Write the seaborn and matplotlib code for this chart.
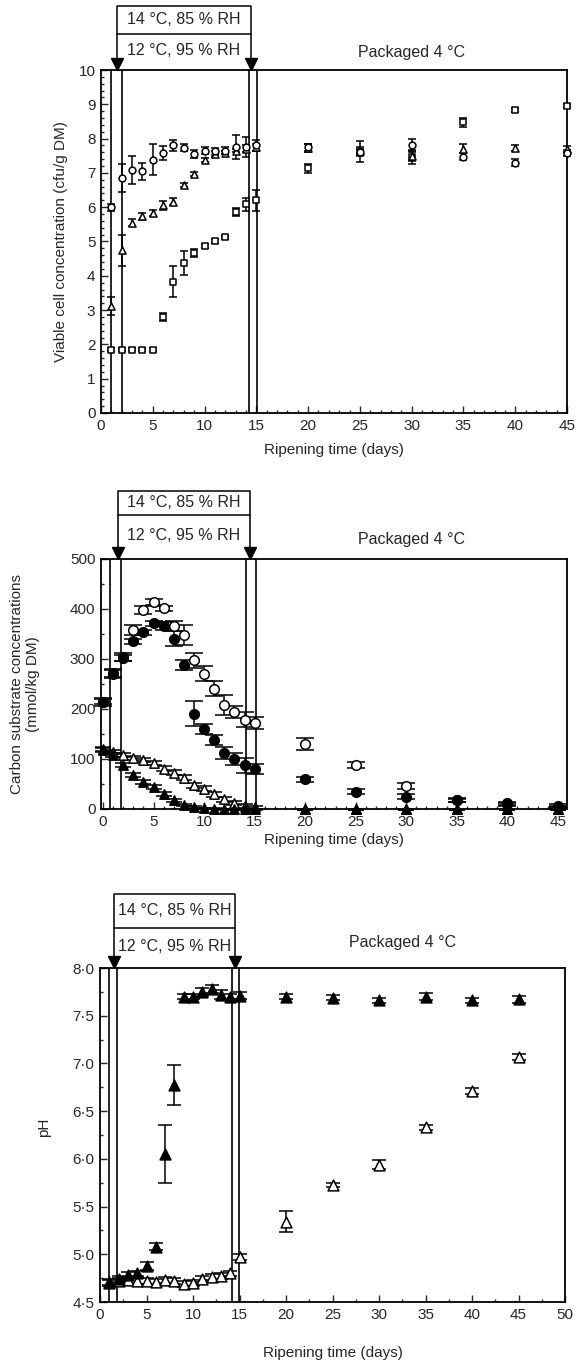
import matplotlib
matplotlib.use("Agg")
import matplotlib.pyplot as plt
import matplotlib.transforms as mtransforms
from matplotlib.ticker import MultipleLocator, FuncFormatter
import seaborn as sns

# ---------------- Viable cell counts (log cfu/g DM) ----------------
days_cells = [1, 2, 3, 4, 5, 6, 7, 8, 9, 10, 11, 12, 13, 14, 15, 20, 25, 30, 35, 40, 45]
cells_circle = [6.0, 6.85, 7.08, 7.05, 7.38, 7.58, 7.8, 7.73, 7.55, 7.65, 7.63, 7.65, 7.75, 7.75, 7.8,
                7.75, 7.6, 7.8, 7.47, 7.3, 7.58]
cells_circle_err = [0.1, 0.42, 0.4, 0.25, 0.45, 0.2, 0.15, 0.1, 0.12, 0.1, 0.1, 0.1, 0.35, 0.3, 0.15,
                    0.1, 0.1, 0.2, 0.1, 0.1, 0.08]
cells_triangle = [3.12, 4.75, 5.55, 5.74, 5.83, 6.05, 6.16, 6.65, 6.97, 7.37, 7.55, 7.59, 7.65, 7.7, 7.75,
                  7.72, 7.65, 7.5, 7.71, 7.72, 7.7]
cells_triangle_err = [0.25, 0.45, 0.1, 0.1, 0.1, 0.12, 0.1, 0.05, 0.05, 0.05, 0.08, 0.05, 0.05, 0.1, 0.1,
                      0.12, 0.1, 0.15, 0.12, 0.08, 0.08]
cells_square = [1.85, 1.85, 1.85, 1.85, 1.85, 2.81, 3.83, 4.36, 4.67, 4.87, 5.02, 5.12, 5.87, 6.08, 6.2,
                7.13, 7.62, 7.47, 8.47, 8.84, 8.95]
cells_square_err = [0.05, 0.05, 0.05, 0.05, 0.05, 0.12, 0.45, 0.35, 0.12, 0.05, 0.05, 0.05, 0.12, 0.2, 0.3,
                    0.12, 0.3, 0.2, 0.12, 0.05, 0.05]

# ---------------- Carbon substrates (mmol/kg DM) ----------------
days_carbon = [0, 1, 2, 3, 4, 5, 6, 7, 8, 9, 10, 11, 12, 13, 14, 15, 20, 25, 30, 35, 40, 45]
carbon_open_circle = [215, 272, 305, 358, 398, 413, 401, 365, 348, 298, 271, 241, 208, 195, 179, 173,
                      131, 88, 46, 18, 12, 7]
carbon_open_circle_err = [8, 8, 8, 10, 8, 6, 5, 10, 20, 15, 15, 15, 20, 12, 15, 12, 12, 6, 6, 3, 3, 3]
carbon_filled_circle = [215, 271, 303, 335, 353, 371, 366, 340, 289, 191, 160, 139, 113, 101, 88, 81,
                        60, 35, 25, 18, 10, 5]
carbon_filled_circle_err = [5, 8, 6, 5, 5, 5, 8, 15, 10, 25, 10, 10, 12, 12, 15, 10, 5, 5, 5, 4, 3, 2]
carbon_open_triangle = [121, 115, 108, 103, 98, 93, 81, 73, 63, 48, 41, 30, 20, 12, 6, 4,
                        0, 0, 0, 0, 0, 0]
carbon_open_triangle_err = [4, 4, 4, 4, 4, 4, 5, 5, 5, 5, 5, 5, 5, 4, 4, 3, 1, 1, 1, 1, 1, 1]
carbon_filled_triangle = [119, 108, 88, 68, 55, 45, 30, 18, 8, 4, 2, 1, 0, 0, 0, 0,
                          0, 0, 0, 0, 0, 0]
carbon_filled_triangle_err = [4, 4, 4, 4, 4, 4, 4, 3, 2, 2, 1, 1, 1, 1, 1, 1, 1, 1, 1, 1, 1, 1]

# ---------------- pH ----------------
days_ph = [1, 2, 3, 4, 5, 6, 7, 8, 9, 10, 11, 12, 13, 14, 15, 20, 25, 30, 35, 40, 45]
ph_filled = [4.71, 4.74, 4.78, 4.80, 4.88, 5.08, 6.05, 6.77, 7.70, 7.70, 7.75, 7.78, 7.72, 7.70, 7.71,
             7.70, 7.69, 7.66, 7.70, 7.66, 7.67]
ph_filled_err = [0.03, 0.03, 0.03, 0.03, 0.04, 0.04, 0.3, 0.21, 0.03, 0.03, 0.04, 0.04, 0.05, 0.03, 0.04,
                 0.03, 0.03, 0.03, 0.04, 0.03, 0.04]
ph_open = [4.70, 4.72, 4.73, 4.72, 4.72, 4.71, 4.73, 4.72, 4.69, 4.70, 4.74, 4.76, 4.77, 4.80, 4.97,
           5.34, 5.73, 5.94, 6.33, 6.71, 7.07]
ph_open_err = [0.03, 0.03, 0.03, 0.03, 0.03, 0.03, 0.03, 0.03, 0.03, 0.03, 0.03, 0.03, 0.03, 0.03, 0.03,
               0.11, 0.02, 0.05, 0.03, 0.03, 0.03]

box_upper = "14 °C, 85 % RH"
box_lower = "12 °C, 95 % RH"
packaged = "Packaged 4 °C"
xlabel = "Ripening time (days)"

sns.set_style("ticks")
plt.rcParams["font.family"] = ["Liberation Sans", "DejaVu Sans"]
plt.rcParams["axes.linewidth"] = 1.3
plt.rcParams["axes.edgecolor"] = "black"

W, H = 582, 1366
fig = plt.figure(figsize=(W / 100, H / 100), dpi=100)
fig.patch.set_facecolor("white")


def axes_px(left, top, right, bottom):
    return fig.add_axes([left / W, 1 - bottom / H, (right - left) / W, (bottom - top) / H])


ax1 = axes_px(101, 70, 567, 413)
ax2 = axes_px(101, 559, 567, 809)
ax3 = axes_px(100, 968, 565, 1302)


def series(ax, x, y, err, marker, filled, size, capsize, lw=1.1):
    ax.errorbar(x, y, yerr=err, fmt="none", ecolor="black", elinewidth=lw,
                capsize=capsize, capthick=lw, zorder=2, clip_on=False)
    sns.scatterplot(x=x, y=y, ax=ax, marker=marker, s=size,
                    color="black" if filled else "white", edgecolor="black",
                    linewidth=lw, zorder=3, legend=False, clip_on=False)


def decorate(ax, vlines, mid, top, pack_x, pack_y):
    trans = mtransforms.blended_transform_factory(ax.transData, ax.transAxes)
    for xv in vlines:
        ax.axvline(xv, color="black", lw=1.2, zorder=1)
    kw = dict(transform=trans, clip_on=False, color="black", lw=1.1)
    ax.plot([1.5, 1.5, 14.5, 14.5], [1.0, top, top, 1.0], **kw)
    ax.plot([1.5, 14.5], [mid, mid], **kw)
    arrow_t = mtransforms.offset_copy(trans, fig=fig, y=4.5, units="points")
    ax.plot([1.5, 14.5], [1.0, 1.0], ls="none", marker="v", ms=9, color="black",
            transform=arrow_t, clip_on=False)
    ax.text(8, (mid + top) / 2, box_upper, transform=trans, ha="center", va="center", fontsize=11.5)
    ax.text(8, (1 + mid) / 2 + 0.005, box_lower, transform=trans, ha="center", va="center", fontsize=11.5)
    ax.text(pack_x, pack_y, packaged, transform=trans, ha="center", va="center", fontsize=11.5)


def style_ticks(ax):
    ax.tick_params(axis="both", which="both", direction="in", top=False, right=False,
                   labelsize=11, width=1.0, pad=4)
    ax.tick_params(which="major", length=5)
    ax.tick_params(which="minor", length=2.5)


# ---- top panel: viable cells ----
series(ax1, days_cells, cells_square, cells_square_err, "s", False, 24, 3)
series(ax1, days_cells, cells_triangle, cells_triangle_err, "^", False, 26, 3)
series(ax1, days_cells, cells_circle, cells_circle_err, "o", False, 24, 3)
ax1.set_xlim(0, 45)
ax1.set_ylim(0, 10)
ax1.xaxis.set_major_locator(MultipleLocator(5))
ax1.xaxis.set_minor_locator(MultipleLocator(1))
ax1.yaxis.set_major_locator(MultipleLocator(1))
ax1.yaxis.set_minor_locator(MultipleLocator(0.2))
decorate(ax1, [1.0, 2.0, 14.3, 15.05], 1.105, 1.187, 30.0, 1.05)
ax1.set_xlabel(xlabel, fontsize=11)
ax1.set_ylabel("Viable cell concentration (cfu/g DM)", fontsize=11)
ax1.xaxis.set_label_coords(0.5, -0.088)
ax1.yaxis.set_label_coords(-0.071, 0.5)
style_ticks(ax1)

# ---- middle panel: carbon substrates ----
series(ax2, days_carbon, carbon_open_triangle, carbon_open_triangle_err, "^", False, 45, 6)
series(ax2, days_carbon, carbon_filled_triangle, carbon_filled_triangle_err, "^", True, 45, 6)
series(ax2, days_carbon, carbon_open_circle, carbon_open_circle_err, "o", False, 48, 6.5)
series(ax2, days_carbon, carbon_filled_circle, carbon_filled_circle_err, "o", True, 48, 6.5)
ax2.set_xlim(-0.2, 45.9)
ax2.set_ylim(0, 500)
ax2.xaxis.set_major_locator(MultipleLocator(5))
ax2.xaxis.set_minor_locator(MultipleLocator(1))
ax2.yaxis.set_major_locator(MultipleLocator(100))
ax2.yaxis.set_minor_locator(MultipleLocator(50))
decorate(ax2, [0.7, 1.8, 14.1, 15.1], 1.176, 1.272, 30.5, 1.076)
ax2.set_xlabel(xlabel, fontsize=11)
ax2.set_ylabel("Carbon substrate concentrations\n(mmol/kg DM)", fontsize=11, linespacing=1.25)
ax2.xaxis.set_label_coords(0.5, -0.095)
ax2.yaxis.set_label_coords(-0.13, 0.5)
style_ticks(ax2)

# ---- bottom panel: pH ----
series(ax3, days_ph, ph_open, ph_open_err, "^", False, 60, 5)
series(ax3, days_ph, ph_filled, ph_filled_err, "^", True, 60, 5)
ax3.set_xlim(0, 50)
ax3.set_ylim(4.5, 8.0)
ax3.xaxis.set_major_locator(MultipleLocator(5))
ax3.xaxis.set_minor_locator(MultipleLocator(2.5))
ax3.yaxis.set_major_locator(MultipleLocator(0.5))
ax3.yaxis.set_minor_locator(MultipleLocator(0.25))
ax3.yaxis.set_major_formatter(FuncFormatter(lambda v, _: f"{v:.1f}".replace(".", "·")))
decorate(ax3, [0.97, 1.8, 14.2, 14.95], 1.120, 1.222, 32.5, 1.075)
ax3.set_xlabel(xlabel, fontsize=11)
ax3.set_ylabel("pH", fontsize=11)
ax3.xaxis.set_label_coords(0.5, -0.132)
ax3.yaxis.set_label_coords(-0.105, 0.524)
style_ticks(ax3)

fig.savefig("out.png", dpi=100, facecolor="white")
